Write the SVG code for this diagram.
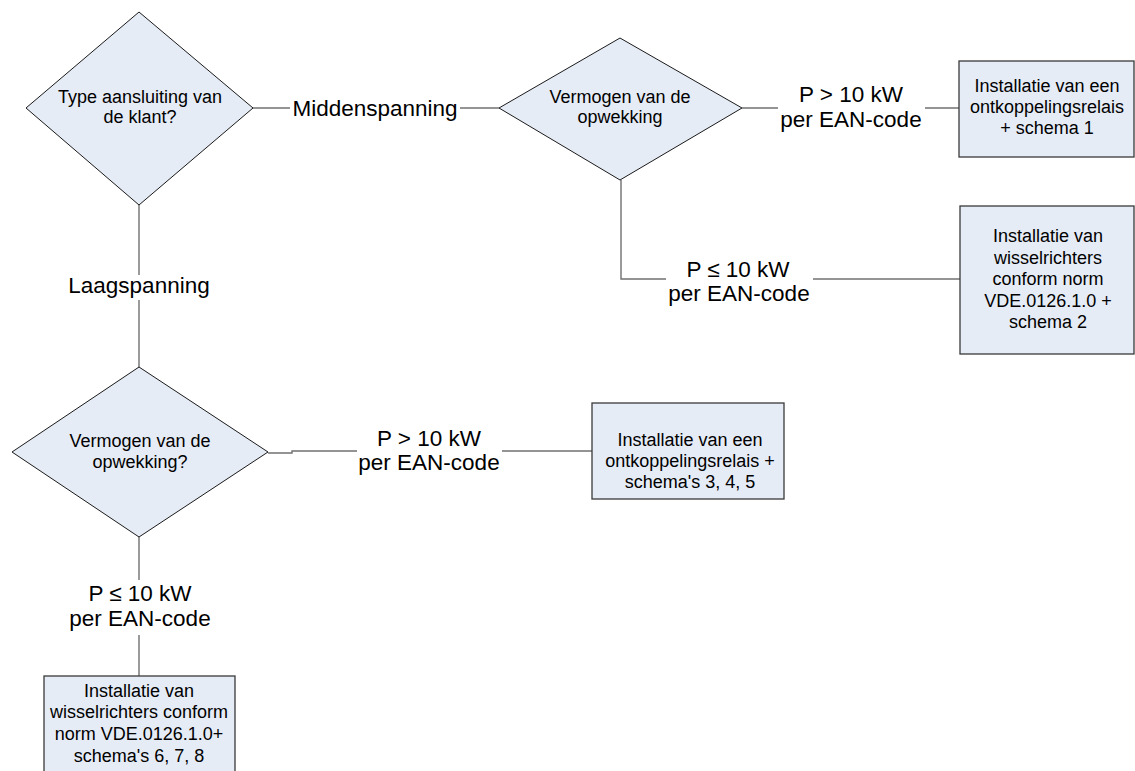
<svg xmlns="http://www.w3.org/2000/svg" width="1135" height="771" viewBox="0 0 1135 771">
<style>
  .shape { fill: #E6ECF6; stroke: #1a1a1a; stroke-width: 1; }
  .box { fill: #E6ECF6; stroke: #3a3a3a; stroke-width: 1.3; }
  .conn { fill: none; stroke: #707070; stroke-width: 1.4; }
  .t { font-family: "Liberation Sans", Arial, sans-serif; font-size: 18px; fill: #000; text-anchor: middle; }
  .lbl { font-family: "Liberation Sans", Arial, sans-serif; font-size: 22.5px; fill: #000; text-anchor: middle; }
</style>
<rect width="1135" height="771" fill="#ffffff"/>
<g id="connectors">
  <path class="conn" d="M253,108 H290"/>
  <path class="conn" d="M460,108 H499"/>
  <path class="conn" d="M742,108 H778"/>
  <path class="conn" d="M925,108 H959"/>
  <path class="conn" d="M621,180 V279 H666"/>
  <path class="conn" d="M813,279 H960"/>
  <path class="conn" d="M139,205 V275"/>
  <path class="conn" d="M139,300 V367"/>
  <path class="conn" d="M268,453 H292 V451 H357"/>
  <path class="conn" d="M502,451 H592"/>
  <path class="conn" d="M139,537 V580"/>
  <path class="conn" d="M139,635 V676"/>
  <text class="lbl" x="375" y="116">Middenspanning</text>
  <text class="lbl" x="851" y="102">P &gt; 10 kW</text>
  <text class="lbl" x="851" y="127">per EAN-code</text>
  <text class="lbl" x="738" y="277">P ≤ 10 kW</text>
  <text class="lbl" x="739" y="301">per EAN-code</text>
  <text class="lbl" x="139" y="293">Laagspanning</text>
  <text class="lbl" x="429" y="446">P &gt; 10 kW</text>
  <text class="lbl" x="429" y="470">per EAN-code</text>
  <text class="lbl" x="140" y="601">P ≤ 10 kW</text>
  <text class="lbl" x="140" y="626">per EAN-code</text>
</g>
<g id="d1">
  <polygon class="shape" points="139,12 253,108 139,205 26,108"/>
  <text class="t" x="140" y="103">Type aansluiting van</text>
  <text class="t" x="140" y="123">de klant?</text>
</g>
<g id="d2">
  <polygon class="shape" points="620,38 742,108 620,180 499,108"/>
  <text class="t" x="620" y="103">Vermogen van de</text>
  <text class="t" x="620" y="123">opwekking</text>
</g>
<g id="d3">
  <polygon class="shape" points="139,367 268,452 139,537 12,452"/>
  <text class="t" x="140" y="447">Vermogen van de</text>
  <text class="t" x="140" y="468">opwekking?</text>
</g>
<g id="b1">
  <rect class="box" x="959" y="61" width="175" height="96"/>
  <text class="t" x="1047" y="92">Installatie van een</text>
  <text class="t" x="1047" y="113">ontkoppelingsrelais</text>
  <text class="t" x="1047" y="134">+ schema 1</text>
</g>
<g id="b2">
  <rect class="box" x="960" y="206" width="174" height="148"/>
  <text class="t" x="1048" y="242">Installatie van</text>
  <text class="t" x="1048" y="263.5">wisselrichters</text>
  <text class="t" x="1048" y="285">conform norm</text>
  <text class="t" x="1048" y="306.5">VDE.0126.1.0 +</text>
  <text class="t" x="1048" y="328">schema 2</text>
</g>
<g id="b3">
  <rect class="box" x="592" y="403" width="192" height="96"/>
  <text class="t" x="690" y="446">Installatie van een</text>
  <text class="t" x="690" y="467">ontkoppelingsrelais +</text>
  <text class="t" x="690" y="488">schema's 3, 4, 5</text>
</g>
<g id="b4">
  <rect class="box" x="44" y="676" width="191" height="110"/>
  <text class="t" x="139" y="697">Installatie van</text>
  <text class="t" x="139" y="718">wisselrichters conform</text>
  <text class="t" x="139" y="740">norm VDE.0126.1.0+</text>
  <text class="t" x="139" y="762">schema's 6, 7, 8</text>
</g>
</svg>
